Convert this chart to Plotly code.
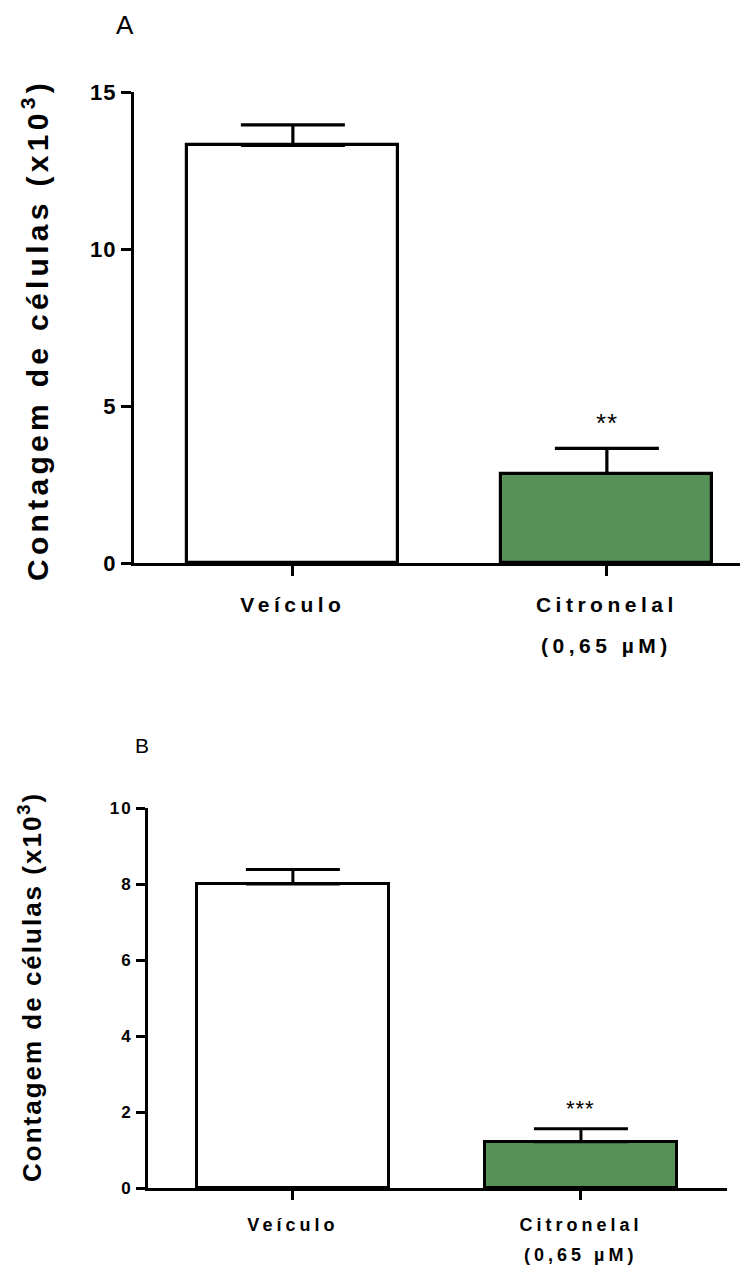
import plotly.graph_objects as go

# Cell counts (x10^3), mean and SEM for each group
groups = ["Veículo", "Citronelal"]
dose_label = "(0,65 µM)"
counts_a = [13.3, 2.85]
sem_a = [0.65, 0.8]
counts_b = [8.0, 1.22]
sem_b = [0.38, 0.34]
signif_a = "**"
signif_b = "***"
yticks_a = [0, 5, 10, 15]
yticks_b = [0, 2, 4, 6, 8, 10]
y_title = "Contagem de células (x10<sup>3</sup>)"

GREEN = "#569257"
BLACK = "#000000"
FONT = "Liberation Sans, Arial, sans-serif"
H = 1271
W = 755


def spaced(text, px):
    return f'<span style="letter-spacing:{px}px">{text}</span>'


def label(x, y, text, size, xref="paper", angle=0):
    fig.add_annotation(x=x, y=y, xref=xref, yref="paper", text=text, textangle=angle,
                       showarrow=False, xanchor="center", yanchor="middle",
                       font=dict(family=FONT, size=size, color=BLACK))


fig = go.Figure()

panels = [
    dict(counts=counts_a, sem=sem_a, xa="x", ya="y", width=0.672, cap=52,
         lw=3.2, sig=signif_a, sig_size=26, sig_shift=8),
    dict(counts=counts_b, sem=sem_b, xa="x2", ya="y2", width=0.667, cap=47,
         lw=3.0, sig=signif_b, sig_size=22, sig_shift=6),
]

for p in panels:
    fig.add_trace(go.Bar(
        x=[0, 1], y=p["counts"], width=p["width"],
        marker=dict(color=["white", GREEN], line=dict(color=BLACK, width=p["lw"])),
        error_y=dict(type="data", array=p["sem"], arrayminus=[0, 0], symmetric=False,
                     color=BLACK, thickness=p["lw"], width=p["cap"]),
        xaxis=p["xa"], yaxis=p["ya"], showlegend=False, hoverinfo="skip",
    ))
    fig.add_annotation(
        x=1, y=p["counts"][1] + p["sem"][1], xref=p["xa"], yref=p["ya"],
        text=spaced(p["sig"], 1), showarrow=False, xanchor="center", yanchor="bottom",
        yshift=p["sig_shift"], font=dict(family=FONT, size=p["sig_size"], color=BLACK),
    )

axis_common = dict(showline=True, linecolor=BLACK, ticks="outside", tickcolor=BLACK,
                   showgrid=False, zeroline=False, fixedrange=True)

fig.update_layout(
    width=W, height=H, margin=dict(l=0, r=0, t=0, b=0, autoexpand=False),
    paper_bgcolor="white", plot_bgcolor="white",
    bargap=0,
    xaxis=dict(domain=[134 / W, 740 / W], range=[-0.506, 1.424], anchor="y",
               tickvals=[0, 1], ticktext=[spaced(g, 4.5) for g in groups],
               tickfont=dict(family=FONT, size=21, color=BLACK, weight="bold"),
               linewidth=3.2, ticklen=10, tickwidth=3.2, ticklabelstandoff=11,
               **axis_common),
    yaxis=dict(domain=[1 - 563 / H, 1 - 92 / H], range=[0, 15], anchor="x",
               tickvals=yticks_a, ticktext=[spaced(str(v), 1) for v in yticks_a],
               tickfont=dict(family=FONT, size=22, color=BLACK, weight="bold"),
               linewidth=3.2, ticklen=10, tickwidth=3.2, **axis_common),
    xaxis2=dict(domain=[148 / W, 727 / W], range=[-0.503, 1.507], anchor="y2",
                tickvals=[0, 1], ticktext=[spaced(g, 4) for g in groups],
                tickfont=dict(family=FONT, size=18, color=BLACK, weight="bold"),
                linewidth=3, ticklen=9, tickwidth=3, ticklabelstandoff=9,
                **axis_common),
    yaxis2=dict(domain=[1 - 1188 / H, 1 - 808 / H], range=[0, 10], anchor="x2",
                tickvals=yticks_b, ticktext=[spaced(str(v), 2) for v in yticks_b],
                tickfont=dict(family=FONT, size=17, color=BLACK, weight="bold"),
                linewidth=3, ticklen=9, tickwidth=3, **axis_common),
    font=dict(family=FONT, color=BLACK),
)

# Axis titles
label(35 / W, 1 - 330 / H, spaced(f"<b>{y_title}</b>", 4.3), 30, angle=-90)
label(30 / W, 1 - 987 / H, spaced(f"<b>{y_title}</b>", 2), 26, angle=-90)
# Second line of the treatment label
label(1, 1 - 645 / H, spaced(f"<b>{dose_label}</b>", 4.5), 21, xref="x")
label(1, 1 - 1255 / H, spaced(f"<b>{dose_label}</b>", 4), 18, xref="x2")
# Panel letters
label(125 / W, 1 - 25 / H, "A", 26)
label(142 / W, 1 - 745 / H, "B", 21)

fig.write_html("out.html")
